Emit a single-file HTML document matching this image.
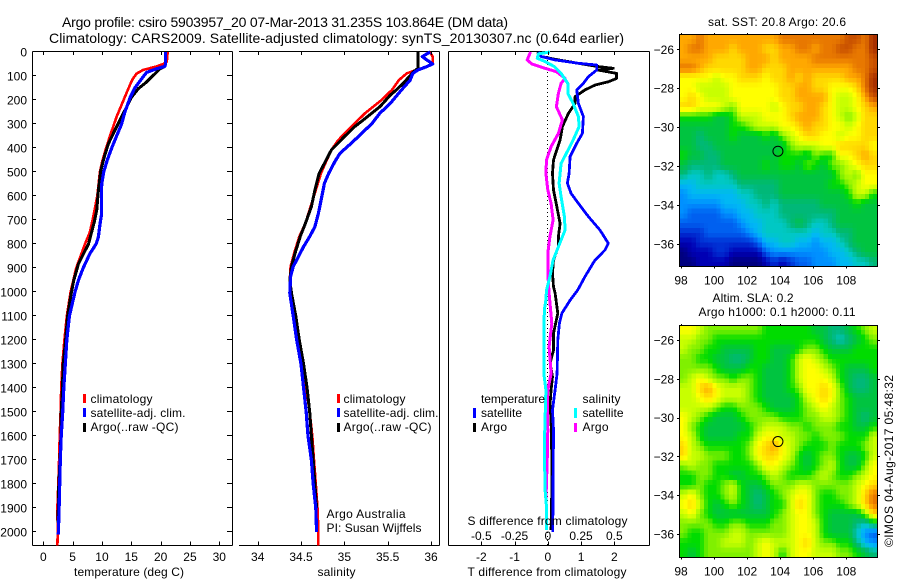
<!DOCTYPE html>
<html lang="en">
<head>
<meta charset="utf-8">
<title>Argo profile csiro 5903957_20</title>
<style>
html,body{margin:0;padding:0;background:#fff;width:900px;height:580px;overflow:hidden}
svg{display:block}
text{font-family:"Liberation Sans",sans-serif;font-size:12px;fill:#000}
.title{font-size:14px}
</style>
</head>
<body>
<svg id="chart" xmlns="http://www.w3.org/2000/svg" width="900" height="580" viewBox="0 0 900 580">
  <rect x="0" y="0" width="900" height="580" fill="#fff"/>
  <g id="maps"></g>
  <g id="panels"></g>
  <g id="series"></g>
  <g id="ticks"></g>

  <text class="title" x="62" y="27" textLength="446" lengthAdjust="spacing">Argo profile: csiro 5903957_20 07-Mar-2013 31.235S 103.864E (DM data)</text>
  <text class="title" x="49" y="43" textLength="575" lengthAdjust="spacing">Climatology: CARS2009. Satellite-adjusted climatology: synTS_20130307.nc (0.64d earlier)</text>

  <text x="74" y="576" textLength="110" lengthAdjust="spacing">temperature (deg C)</text>
  <text x="317.5" y="576" textLength="38" lengthAdjust="spacing">salinity</text>
  <text x="467.5" y="576" textLength="159" lengthAdjust="spacing">T difference from climatology</text>
  <text x="467.5" y="525" textLength="160" lengthAdjust="spacing">S difference from climatology</text>

  <g>
    <rect x="83" y="394" width="3" height="9" fill="#f00"/>
    <rect x="83" y="408" width="3" height="9" fill="#00f"/>
    <rect x="83" y="423" width="3" height="9" fill="#000"/>
    <text x="90.5" y="403" textLength="62" lengthAdjust="spacing">climatology</text>
    <text x="90.5" y="417" textLength="95" lengthAdjust="spacing">satellite-adj. clim.</text>
    <text x="90.5" y="431" textLength="88" lengthAdjust="spacing">Argo(..raw -QC)</text>
  </g>
  <g>
    <rect x="337" y="394" width="3" height="9" fill="#f00"/>
    <rect x="337" y="408" width="3" height="9" fill="#00f"/>
    <rect x="337" y="423" width="3" height="9" fill="#000"/>
    <text x="343.5" y="403" textLength="62" lengthAdjust="spacing">climatology</text>
    <text x="343.5" y="417" textLength="95" lengthAdjust="spacing">satellite-adj. clim.</text>
    <text x="343.5" y="431" textLength="88" lengthAdjust="spacing">Argo(..raw -QC)</text>
  </g>
  <text x="326.5" y="518" textLength="79" lengthAdjust="spacing">Argo Australia</text>
  <text x="326.5" y="532" textLength="95" lengthAdjust="spacing">PI: Susan Wijffels</text>

  <g>
    <text x="481" y="403" textLength="64" lengthAdjust="spacing">temperature</text>
    <rect x="473" y="408" width="3" height="10" fill="#00f"/>
    <rect x="473" y="423" width="3" height="9" fill="#000"/>
    <text x="481" y="417" textLength="41" lengthAdjust="spacing">satellite</text>
    <text x="481" y="431" textLength="26" lengthAdjust="spacing">Argo</text>
    <text x="582.5" y="403" textLength="38" lengthAdjust="spacing">salinity</text>
    <rect x="574" y="408" width="3" height="10" fill="#0ff"/>
    <rect x="574" y="423" width="3" height="9" fill="#f0f"/>
    <text x="582.5" y="417" textLength="41" lengthAdjust="spacing">satellite</text>
    <text x="582.5" y="431" textLength="26" lengthAdjust="spacing">Argo</text>
  </g>

  <text x="708" y="26" textLength="138" lengthAdjust="spacing">sat. SST: 20.8 Argo: 20.6</text>
  <text x="712.5" y="302" textLength="81" lengthAdjust="spacing">Altim. SLA: 0.2</text>
  <text x="698.5" y="316" textLength="157" lengthAdjust="spacing">Argo h1000: 0.1 h2000: 0.11</text>
  <text transform="translate(893 547) rotate(-90)" x="0" y="0" textLength="172" lengthAdjust="spacing">©IMOS 04-Aug-2017 05:48:32</text>
</svg>

<script>
// ---------- Axis tick labels ----------
const depthTicks = [0,100,200,300,400,500,600,700,800,900,1000,1100,1200,1300,1400,1500,1600,1700,1800,1900,2000];
const temperatureTicks = [0,5,10,15,20,25,30];
const salinityTicks = [34,34.5,35,35.5,36];
const tDiffTicks = [-2,-1,0,1,2];
const sDiffTicks = [-0.5,-0.25,0,0.25,0.5];
const lonTicks = [98,100,102,104,106,108];
const latTicks = [-26,-28,-30,-32,-34,-36];
const argoLon = 103.864;
const argoLat = -31.235;

// ---------- Temperature profiles ----------
const tempClimDepth = [0,40,50,60,75,90,110,130,170,220,270,340,400,450,500,600,700,750,800,900,1000,1100,1200,1300,1400,1500,1600,1700,1800,1900,2000,2056];
const tempClim = [21.2,21.05,20.45,19.3,17,15.9,15.3,14.9,14.2,13.35,12.5,11.5,10.7,10.1,9.65,9.2,8.4,7.95,7.1,5.6,4.66,4,3.6,3.25,3.05,2.95,2.8,2.7,2.55,2.4,2.45,2.4];
const tempSatDepth = [0,50,60,70,85,110,150,190,250,300,350,400,450,500,550,600,680,720,770,800,840,900,950,1000,1100,1200,1300,1400,1500,1600,1700,1800,1900,2010];
const tempSat = [20.85,20.85,20.7,19.3,17.6,16.8,15.6,14.8,13.9,13.35,12.5,11.65,10.9,10.3,9.95,9.9,9.9,9.65,9.4,9,7.95,6.8,6,5.4,4.45,4,3.75,3.5,3.3,3.05,2.9,2.8,2.7,2.55];
const tempArgoDepth = [0,50,60,70,97,125,153,188,229,270,326,382,437,493,576,660,708,800,882,951,1020,1100,1200,1300,1400,1500,1600,1700,1800,1900,1960];
const tempArgo = [20.85,20.85,20.7,19.9,18.75,17.6,16.2,15.05,14.2,13.35,12.2,11.1,10.4,9.8,9.4,9.1,8.7,7.7,6,5.2,4.66,4.15,3.8,3.4,3.25,3.05,3,2.85,2.65,2.55,2.5];

// ---------- Salinity profiles ----------
const salClimDepth = [0,20,47,61,75,89,117,158,200,255,311,367,408,464,505,575,644,714,769,839,894,950,1005,1100,1200,1300,1400,1500,1600,1700,1800,1900,2000,2056];
const salClim = [35.99,36.02,36.02,35.95,35.83,35.72,35.63,35.55,35.43,35.24,35.08,34.93,34.85,34.78,34.73,34.67,34.61,34.55,34.48,34.42,34.38,34.37,34.39,34.44,34.48,34.53,34.56,34.6,34.63,34.65,34.67,34.69,34.7,34.7];
const salSatDepth = [0,19,33,50,61,75,89,117,158,214,255,297,339,380,422,457,505,547,603,672,728,769,811,853,894,936,1005,1100,1200,1300,1400,1500,1600,1700,1800,1900,2000];
const salSat = [35.99,35.9,35.95,36.02,35.95,35.85,35.79,35.76,35.66,35.53,35.41,35.32,35.2,35.08,34.95,34.89,34.82,34.77,34.74,34.7,34.66,34.6,34.53,34.47,34.41,34.38,34.37,34.41,34.45,34.5,34.53,34.56,34.58,34.62,34.64,34.67,34.68];
const salArgoDepth = [0,45,68,82,130,158,180,228,283,311,353,408,457,505,575,644,714,769,839,894,950,1005,1100,1200,1300,1400,1500,1600,1700,1800,1900];
const salArgo = [35.85,35.85,35.85,35.8,35.68,35.6,35.53,35.41,35.22,35.12,35,34.85,34.78,34.71,34.66,34.62,34.55,34.49,34.43,34.39,34.37,34.39,34.44,34.48,34.53,34.57,34.6,34.62,34.64,34.66,34.68];

// ---------- Difference profiles ----------
const dtArgoDepth = [0,19,33,47,61,68,75,89,110,124,138,158,186,214,256,311,367,408,450,506,575,644,714,769,811,867,922,978,1005,1089,1172,1242,1297,1353,1408,1464,1547,1686,1825,1992];
const dtArgo = [-0.32,-0.19,0.32,0.92,1.52,1.97,1.5,2.07,2.07,1.82,1.42,1.12,0.82,0.82,0.62,0.44,0.37,0.27,0.17,0.14,0.17,0.27,0.37,0.32,0.32,0.17,0.14,0.17,0.22,0.3,0.17,0.17,0.07,0.14,0.1,0.07,0.1,0.12,0.12,0.1];
const dtSatDepth = [0,19,33,47,54,75,103,131,158,214,269,339,381,436,506,547,589,631,686,742,797,825,867,936,992,1034,1089,1131,1200,1339,1408,1492,1575,1964,2000];
const dtSat = [-0.29,-0.19,0.22,0.92,1.47,1.47,1.22,1.07,0.87,0.92,1.07,1.04,0.87,0.67,0.64,0.59,0.7,0.92,1.22,1.57,1.82,1.72,1.42,1.12,0.9,0.67,0.42,0.35,0.3,0.28,0.22,0.14,0.17,0.15,0.15];
const dsSatDepth = [0,8,26,40,61,89,131,172,214,269,311,367,422,464,547,603,686,742,797,867,936,992,1033,1075,1339,1408,1645,1825,1895,1992];
const dsSat = [0.016,-0.07,-0.08,-0.02,0.05,0.1,0.15,0.15,0.19,0.23,0.235,0.19,0.14,0.1,0.085,0.1,0.125,0.13,0.09,0.04,0.016,-0.01,-0.014,-0.026,-0.03,-0.014,-0.026,-0.02,-0.01,-0.01];
const dsArgoDepth = [0,33,50,68,82,110,131,172,228,283,339,394,450,506,575,631,700,769,839,922,1005,1131,1228,1339,1408,1492,1575,1686,1870];
const dsArgo = [-0.13,-0.155,-0.12,-0.02,0.065,0.13,0.1,0.08,0.065,0.11,0.08,0.025,-0.01,-0.014,0,0.025,0.04,0.016,0,0,0.01,0.03,0.01,0.025,0,-0.004,0,-0.004,-0.014];

// ---------- Map colour levels (cool to warm) ----------
const levelColors = ["#00007f","#0000b4","#0030d4","#0060f0","#0090ff","#00b8f4","#00c8c4","#00b878","#00c440","#00dc00","#80f000","#c8ff00","#ffff00","#ffd800","#ffa800","#e87800","#c85000","#a83000"];

// ---------- Satellite SST map, levels per 0.5 degree sample, north to south ----------
const sstGrid = [
[14,14,15,14,14,14,14,14,14,14,14,14,15,15,15,15,15,15,15,15,16,16,15,17],
[14,15,15,14,14,14,13,14,14,14,13,13,14,14,15,15,14,15,15,16,16,15,15,17],
[14,14,14,14,13,13,13,13,14,14,14,13,14,14,14,14,15,15,15,15,15,15,15,16],
[15,15,14,13,13,13,13,13,14,14,13,13,13,14,14,14,14,14,14,14,14,15,15,16],
[12,12,12,12,11,12,12,13,13,13,12,13,13,14,13,14,13,13,13,13,14,14,15,17],
[12,12,11,11,11,11,12,12,12,12,12,12,13,13,14,14,13,13,12,12,12,13,15,17],
[12,13,12,11,11,11,12,12,12,12,12,12,13,13,14,14,14,14,12,11,11,12,14,16],
[13,13,12,12,12,11,10,12,12,12,12,11,12,13,13,14,14,13,12,11,11,12,13,14],
[9,9,9,9,8,8,9,11,11,11,12,12,12,13,14,14,14,13,12,11,10,11,13,13],
[8,8,8,8,8,8,9,9,10,11,11,11,12,12,13,14,13,13,12,12,11,12,13,13],
[8,8,7,8,8,8,9,8,8,8,9,8,10,11,12,13,13,12,12,11,12,12,13,13],
[8,8,7,7,8,8,8,8,8,8,8,8,8,10,11,11,11,12,12,13,13,13,13,12],
[9,8,8,7,7,8,8,8,8,8,8,8,9,9,9,8,10,9,9,12,12,13,14,13],
[8,7,7,7,7,8,8,8,8,8,9,8,9,9,8,10,9,8,10,10,11,12,13,13],
[7,6,6,7,6,6,7,8,8,8,8,8,8,8,8,8,8,8,8,10,11,10,12,12],
[5,5,6,6,6,6,6,7,7,7,7,7,8,8,8,8,8,8,9,9,10,11,12,12],
[4,5,5,5,5,5,5,6,6,7,7,7,8,8,8,8,8,8,8,8,9,11,11,9],
[4,4,4,4,4,5,5,5,6,6,7,6,7,7,7,7,7,8,8,8,8,9,8,8],
[4,3,3,3,3,4,4,5,5,6,6,6,7,7,7,7,7,7,7,8,8,8,8,8],
[3,3,3,3,3,3,3,4,5,5,6,6,6,7,8,7,6,6,7,8,8,8,8,8],
[2,2,2,3,3,3,3,3,4,5,6,6,6,6,6,6,5,6,6,7,7,8,8,8],
[1,1,2,2,2,2,2,2,2,3,5,5,6,6,5,5,4,5,5,6,7,8,8,8],
[0,1,1,1,2,2,1,1,1,1,3,4,4,4,4,4,4,4,5,5,6,7,8,8],
[0,0,1,1,1,1,0,0,0,0,1,2,1,2,3,3,4,4,4,5,5,6,6,7]
];

// ---------- Altimeter SLA map, levels per 0.5 degree sample, north to south ----------
const slaGrid = [
[12,12,11,10,10,10,10,10,10,10,9,9,9,9,9,9,8,8,7,7,8,9,10,11],
[11,11,10,10,9,9,9,9,9,9,9,9,9,9,9,9,9,8,7,6,7,8,9,10],
[11,10,10,9,9,8,8,8,8,9,9,8,8,8,9,10,10,9,8,8,8,9,9,9],
[10,10,9,9,8,8,7,7,8,9,9,8,8,9,11,12,11,10,9,9,9,9,9,9],
[10,10,10,10,9,8,8,8,9,9,8,8,8,9,11,12,12,11,10,9,8,8,8,9],
[10,11,12,11,10,10,9,10,10,9,8,8,8,9,11,12,12,12,11,9,8,7,7,8],
[11,11,13,14,12,11,11,11,10,9,8,8,8,9,10,12,12,13,12,10,8,7,7,8],
[11,11,12,13,12,11,11,11,10,9,8,8,8,8,9,11,12,13,12,10,9,8,8,8],
[11,11,11,11,10,9,9,10,10,10,9,8,8,8,9,10,11,12,11,10,9,8,8,8],
[12,11,10,9,8,8,8,9,10,10,10,10,9,9,9,10,10,11,11,10,9,8,7,8],
[12,10,9,8,8,8,8,8,9,10,11,11,11,10,10,9,10,10,10,9,9,8,8,9],
[12,11,9,8,8,8,8,9,9,11,12,12,11,11,10,10,9,10,10,10,9,9,9,11],
[13,11,10,9,9,9,9,9,10,12,13,14,12,11,10,9,9,9,10,9,9,9,10,11],
[13,11,11,10,10,10,9,9,10,12,13,13,12,11,9,8,9,10,10,9,8,8,9,11],
[10,11,10,10,9,9,9,9,9,10,12,12,11,10,9,8,9,10,11,9,8,8,10,12],
[9,9,10,10,9,9,8,8,9,9,10,11,10,9,9,9,10,11,10,9,9,10,11,12],
[9,9,10,9,9,10,11,9,8,8,9,10,10,10,11,11,10,10,10,10,10,11,12,13],
[11,12,10,9,9,10,11,9,8,7,8,9,10,11,12,12,10,9,9,10,10,11,13,15],
[12,13,11,9,8,9,10,9,8,7,8,9,9,11,13,12,10,9,9,9,10,11,13,15],
[11,12,10,9,8,8,8,8,8,8,8,9,10,11,12,12,10,9,8,8,8,8,10,13],
[10,10,10,10,9,9,10,10,9,9,9,10,10,11,12,12,11,9,8,8,8,7,6,8],
[10,9,9,10,10,10,11,11,10,10,10,10,10,11,12,12,11,9,8,8,8,6,4,3],
[9,9,9,10,10,11,11,11,10,11,12,11,11,11,12,13,11,10,10,9,9,7,5,4],
[9,8,9,10,10,10,10,10,10,11,12,11,9,11,12,12,11,11,11,10,10,9,8,7]
];

// ---------- Axis functions ----------
const SVGNS = "http://www.w3.org/2000/svg";
const yDepth = d => 52 + 0.24 * d;
const xTemp = v => 43.3 + 5.867 * v;
const xSal = v => 257.7 + 86.65 * (v - 34);
const xDiffT = v => 547.8 + 33.25 * v;
const xDiffS = v => 547.8 + 133 * v;
const mapLeft = 679.3, mapWidth = 198, mapHeight = 232.4;
const xLon = v => 681 + 16.53 * (v - 98);
const yLatSst = v => 49.3 + 19.47 * (-26 - v);
const yLatSla = v => 340 + 19.4 * (-26 - v);

function make(tag, attrs, parent) {
  const node = document.createElementNS(SVGNS, tag);
  for (const k in attrs) node.setAttribute(k, attrs[k]);
  parent.appendChild(node);
  return node;
}
const mapsG = document.getElementById("maps");
const panelsG = document.getElementById("panels");
const seriesG = document.getElementById("series");
const ticksG = document.getElementById("ticks");

function hline(x1, x2, y, parent) {
  return make("line", {x1: x1, x2: x2, y1: y, y2: y, stroke: "#000", "stroke-width": 1, "shape-rendering": "crispEdges"}, parent);
}
function vline(x, y1, y2, parent) {
  return make("line", {x1: x, x2: x, y1: y1, y2: y2, stroke: "#000", "stroke-width": 1, "shape-rendering": "crispEdges"}, parent);
}
function label(txt, x, y, anchor, parent) {
  const t = make("text", {x: x, y: y, "text-anchor": anchor}, parent);
  t.textContent = txt;
  return t;
}

// ---------- Panel frames ----------
const frameSegments = [
  ["temperature-top-axis", 32.5, 232.5, 51.5], ["temperature-bottom-axis", 32.5, 232.5, 545.5],
  ["salinity-top-axis", 239, 439.5, 51.5], ["salinity-bottom-axis", 239, 439.5, 545.5],
  ["difference-top-axis", 448.5, 649.5, 51.5], ["difference-bottom-axis", 448.5, 649.5, 545.5]
];
for (const s of frameSegments) {
  const ln = hline(s[1], s[2], s[3], panelsG);
  
  
}
const frameSides = [["temperature-left-axis", 32.5], ["temperature-right-axis", 232.5], ["salinity-right-axis", 439.5], ["difference-left-axis", 448.5], ["difference-right-axis", 649.5]];
for (const s of frameSides) {
  const ln = vline(s[1], 51.5, 545.5, panelsG);
  
  
}

// ---------- Depth ticks ----------
for (const d of depthTicks) {
  const y = Math.round(yDepth(d)) - 0.5;
  const a = hline(32.5, 36, y, ticksG);
  
  
  const b = hline(227, 232.5, y, ticksG);
  
  
  const t = label(d, 27, yDepth(d) + 4.5, "end", ticksG);
  
  
}

// ---------- X ticks ----------
function xTicks(values, fn, name, baseline, fmt) {
  for (const v of values) {
    const x = Math.round(fn(v)) + 0.5;
    const top = vline(x, 51.5, 55, ticksG);
    
    
    const bot = vline(x, 541.5, 545.5, ticksG);
    
    
    const t = label(fmt(v), fn(v), baseline, "middle", ticksG);
    
    
  }
}
xTicks(temperatureTicks, xTemp, "temperature", 561, v => String(v));
xTicks(salinityTicks, xSal, "salinity", 561, v => String(v));
xTicks(tDiffTicks, xDiffT, "t-difference", 561, v => String(v));
for (const v of sDiffTicks) {
  const t = label(String(v), xDiffS(v), 540, "middle", ticksG);
  
  
}

// ---------- Zero reference line ----------
const zeroLine = make("line", {x1: 547.5, x2: 547.5, y1: 52, y2: 545, stroke: "#000", "stroke-width": 1, "stroke-dasharray": "1 3", "shape-rendering": "crispEdges"}, seriesG);



// ---------- Profile lines ----------
function profile(depths, values, xFn, color, width, name) {
  const pts = values.map((v, i) => xFn(v).toFixed(1) + "," + yDepth(depths[i]).toFixed(1)).join(" ");
  const p = make("polyline", {points: pts, fill: "none", stroke: color, "stroke-width": width, "stroke-linejoin": "round", "shape-rendering": "crispEdges"}, seriesG);
  
  
}
profile(tempClimDepth, tempClim, xTemp, "#f00", 2.6, "temperature-climatology-line");
profile(tempArgoDepth, tempArgo, xTemp, "#000", 3, "temperature-argo-line");
profile(tempSatDepth, tempSat, xTemp, "#00f", 3.2, "temperature-satellite-line");
profile(salClimDepth, salClim, xSal, "#f00", 2.6, "salinity-climatology-line");
profile(salArgoDepth, salArgo, xSal, "#000", 3, "salinity-argo-line");
profile(salSatDepth, salSat, xSal, "#00f", 3.2, "salinity-satellite-line");
profile(dtArgoDepth, dtArgo, xDiffT, "#000", 2.8, "t-difference-argo-line");
profile(dtSatDepth, dtSat, xDiffT, "#00f", 2.8, "t-difference-satellite-line");
profile(dsArgoDepth, dsArgo, xDiffS, "#f0f", 3, "s-difference-argo-line");
profile(dsSatDepth, dsSat, xDiffS, "#0ff", 3, "s-difference-satellite-line");

// ---------- Maps ----------
const rgbLevels = levelColors.map(h => [parseInt(h.slice(1,3),16), parseInt(h.slice(3,5),16), parseInt(h.slice(5,7),16)]);
function levelColor(level) {
  const i = Math.max(0, Math.min(rgbLevels.length - 2, Math.floor(level)));
  const f = Math.max(0, Math.min(1, level - i));
  const a = rgbLevels[i], b = rgbLevels[i + 1];
  return "rgb(" + [0,1,2].map(k => Math.round(a[k] + (b[k] - a[k]) * f)).join(",") + ")";
}
function sampleGrid(grid, gy, gx) {
  const rows = grid.length, cols = grid[0].length;
  const x = Math.max(0, Math.min(cols - 1, gx));
  const y = Math.max(0, Math.min(rows - 1, gy));
  const x0 = Math.min(cols - 2, Math.floor(x)), y0 = Math.min(rows - 2, Math.floor(y));
  const fx = x - x0, fy = y - y0;
  const top = grid[y0][x0] * (1 - fx) + grid[y0][x0 + 1] * fx;
  const bot = grid[y0 + 1][x0] * (1 - fx) + grid[y0 + 1][x0 + 1] * fx;
  return top * (1 - fy) + bot * fy;
}
function drawMap(grid, top, yFn, name) {
  const rows = grid.length * 2, cols = grid[0].length * 2;
  const cw = mapWidth / cols, ch = mapHeight / rows;
  for (let r = 0; r < rows; r++) {
    for (let c = 0; c < cols; c++) {
      const lvl = sampleGrid(grid, (r + 0.5) / 2 - 0.5, (c + 0.5) / 2 - 0.5);
      const cell = make("rect", {x: (mapLeft + c * cw).toFixed(2), y: (top + r * ch).toFixed(2), width: (cw + 0.5).toFixed(2), height: (ch + 0.5).toFixed(2), fill: levelColor(lvl), "shape-rendering": "crispEdges"}, mapsG);
      
      
    }
  }
  const frame = make("rect", {x: 679.5, y: Math.round(top) + 0.5, width: 198, height: Math.round(mapHeight), fill: "none", stroke: "#000", "stroke-width": 1, "shape-rendering": "crispEdges"}, mapsG);
  
  
  const bottom = Math.round(top) + 0.5 + Math.round(mapHeight);
  for (const v of lonTicks) {
    const x = Math.round(xLon(v)) + 0.5;
    const tk = vline(x, Math.round(top) - 1, Math.round(top) + 1, mapsG);
    
    
    const tb = vline(x, bottom, bottom + 2, mapsG);
    
    
    const t = label(v, xLon(v), bottom + 18, "middle", mapsG);
    
    
  }
  for (const v of latTicks) {
    const y = Math.round(yFn(v)) + 0.5;
    const tl = hline(677, 679.5, y, mapsG);
    
    
    const tr = hline(877.5, 880, y, mapsG);
    
    
    const t = label("\u2212" + Math.abs(v), 674, yFn(v) + 4.5, "end", mapsG);
    
    
  }
  const marker = make("circle", {cx: xLon(argoLon), cy: yFn(argoLat), r: 5, fill: "none", stroke: "#000", "stroke-width": 1}, mapsG);
  
  
}
drawMap(sstGrid, 34.3, yLatSst, "sst-map");
drawMap(slaGrid, 325, yLatSla, "sla-map");
</script>
</body>
</html>
